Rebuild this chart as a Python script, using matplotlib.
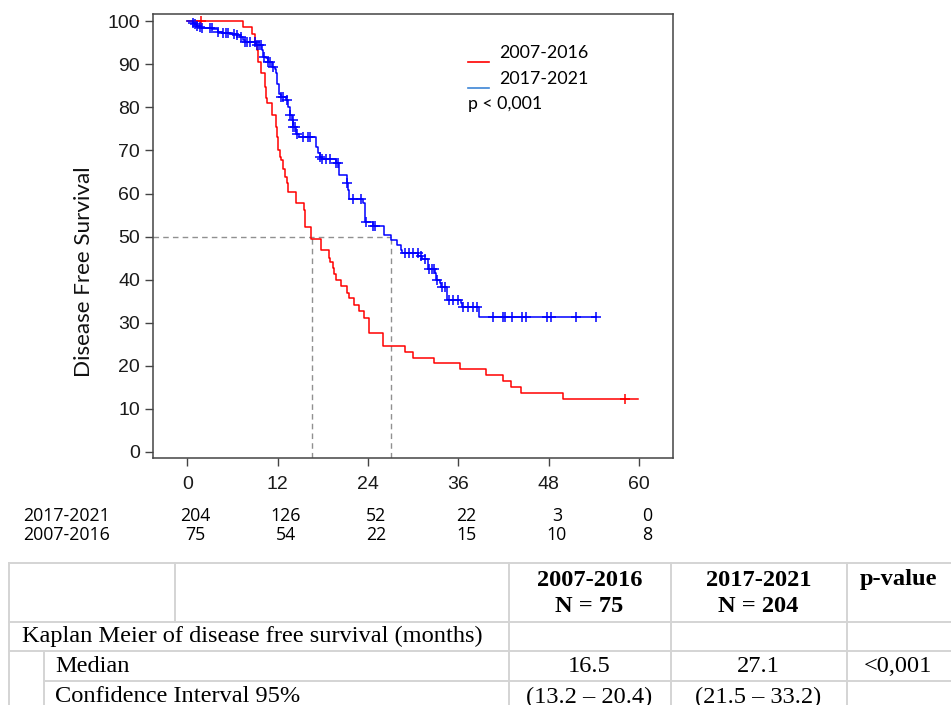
import numpy as np
import matplotlib
matplotlib.use("Agg")
import matplotlib.pyplot as plt
from matplotlib.lines import Line2D
from matplotlib.transforms import blended_transform_factory, offset_copy

# --- data ---
# 2007-2016 (red): step times and survival after each step
old_t = [0, 7.33, 8.65, 8.96, 9.19, 9.41, 9.72, 10.29, 10.51, 10.6, 11.27, 11.75,
         11.93, 12.06, 12.28, 12.5, 12.64, 12.95, 13.17, 13.39, 14.41, 15.52, 15.6,
         16.4, 17.73, 18.75, 18.92, 19.28, 19.5, 19.72, 20.47, 21.14, 21.49, 22.11,
         22.82, 23.44, 24.15, 25.92, 28.97, 29.99, 32.74, 36.19, 39.6, 41.9, 43.05,
         44.25, 49.91, 59.9]
old_s = [100, 98.7, 97.1, 94.8, 93.3, 90.6, 87.9, 84.8, 82.1, 80.9, 78.2, 75.5,
         73.2, 70.1, 68.5, 67.8, 65.8, 63.9, 62.4, 60.4, 57.7, 56.2, 52.3,
         49.4, 46.9, 45.0, 44.0, 42.7, 41.3, 40.0, 38.5, 36.9, 35.7, 34.2,
         32.8, 31.0, 27.6, 24.7, 23.3, 21.9, 20.6, 19.2, 17.9, 16.5, 15.1,
         13.8, 12.4, 12.4]
old_cens = [1.8, 58.1]

# 2017-2021 (blue)
new_t = [0, 0.69, 1.0, 1.22, 1.66, 1.88, 3.34, 3.78, 4.09, 4.54, 5.2, 5.86, 6.53,
         6.97, 7.41, 7.64, 9.1, 9.85, 10.07, 10.51, 10.73, 11.18, 11.62, 11.75,
         11.93, 12.2, 12.5, 13.08, 13.39, 13.61, 13.84, 14.05, 14.41, 14.85, 17.15,
         17.37, 17.6, 17.82, 19.81, 20.16, 21.14, 21.36, 21.49, 23.35, 23.57, 24.68,
         26.1, 27.11, 27.91, 28.44, 28.57, 30.65, 31.1, 31.9, 32.87, 33.09, 33.53,
         33.75, 34.42, 34.55, 36.28, 36.5, 38.76, 54.34]
new_s = [100, 99.5, 99.3, 98.8, 98.7, 98.5, 98.3, 98.1, 97.5, 97.3, 97.2, 97.1, 96.9,
         96.4, 95.6, 95.2, 94.4, 93.3, 91.7, 91.4, 90.6, 89.4, 89.0, 87.9,
         85.5, 83.2, 82.5, 81.8, 80.1, 78.2, 77.0, 75.5, 73.9, 73.2, 70.9,
         69.3, 68.5, 67.9, 67.0, 64.3, 62.4, 60.8, 58.7, 57.7, 53.5, 52.4,
         50.4, 49.2, 48.1, 46.9, 46.3, 45.4, 44.7, 42.4, 41.5, 40.0, 39.2,
         38.2, 36.9, 35.3, 34.5, 33.6, 31.3, 31.3]
new_cens = [0.77, 1.0, 1.31, 1.66, 2.01, 2.99, 3.21, 4.09, 4.67, 5.11, 5.42, 6.22,
            6.53, 7.19, 7.64, 7.86, 8.3, 8.96, 9.19, 9.54, 9.72, 10.16, 10.73, 11.04,
            11.4, 12.5, 12.73, 13.17, 13.7, 13.97, 14.05, 14.28, 14.5, 15.38, 16.04,
            16.27, 17.6, 17.82, 18.48, 18.92, 19.81, 20.03, 21.14, 22.02, 23.13,
            23.71, 24.68, 24.9, 28.88, 29.46, 29.99, 30.57, 30.97, 31.54, 32.07,
            32.43, 32.78, 33.22, 33.84, 34.2, 34.73, 35.3, 35.97, 36.63, 37.29,
            37.96, 38.49, 40.61, 41.94, 42.16, 43.09, 44.51, 44.95, 47.79, 48.36,
            51.59, 54.34]

medians = [16.5, 27.1]

risk_times = [0, 12, 24, 36, 48, 60]
risk_new = [204, 126, 52, 22, 3, 0]
risk_old = [75, 54, 22, 15, 10, 8]

table_groups = ["2007-2016\nN = 75", "2017-2021\nN = 204"]
table_median = ["16.5", "27.1"]
table_ci = ["(13.2 \u2013 20.4)", "(21.5 \u2013 33.2)"]
table_p = "<0,001"

W, H = 951, 705


def fx(px):
    return px / W


def fy(py):
    return 1 - py / H


def surv_at(t, s, ct):
    idx = np.searchsorted(t, ct, side="right") - 1
    return np.asarray(s)[idx]


fig = plt.figure(figsize=(W / 100, H / 100), dpi=100)
ax = fig.add_axes([fx(152.7), fy(458), fx(673) - fx(152.7), fy(14.3) - fy(458)])

red = "#ff0000"
blue = "#0000ff"

ax.step(old_t, old_s, where="post", color=red, lw=1.1, zorder=3)
ax.step(new_t, new_s, where="post", color=blue, lw=1.1, zorder=4)
ax.plot(old_cens, surv_at(old_t, old_s, old_cens), "+", color=red, ms=7, mew=1.1, zorder=3)
ax.plot(new_cens, surv_at(new_t, new_s, new_cens), "+", color=blue, ms=7, mew=1.1, zorder=4)

xmin, xmax = -4.6, 64.5
ymin, ymax = -1.4, 101.6
# median guide lines
ax.plot([xmin, max(medians)], [50, 50], ls=(0, (4, 3)), color="#909090", lw=1, zorder=2)
for m in medians:
    ax.plot([m, m], [ymin, 50], ls=(0, (4, 3)), color="#909090", lw=1, zorder=2)

ax.set_xlim(xmin, xmax)
ax.set_ylim(ymin, ymax)
ax.set_xticks(risk_times)
ax.set_yticks(np.arange(0, 101, 10))
for sp in ax.spines.values():
    sp.set_color("#444444")
    sp.set_linewidth(1.1)
ax.tick_params(axis="both", direction="out", length=6, width=1, color="#444444",
               labelcolor="#1a1a1a", labelsize=14, labelfontfamily="Liberation Sans")
ax.tick_params(axis="y", pad=3)
ax.tick_params(axis="x", pad=7)

fig.text(fx(83.5), fy(271.5), "Disease Free Survival", rotation=90, ha="center",
         va="center", family="Lato", fontsize=16.2, color="#111111")

# legend drawn by hand
fig.add_artist(Line2D([fx(468), fx(489)], [fy(62.3), fy(62.3)], color=red, lw=1.2))
fig.add_artist(Line2D([fx(468), fx(489)], [fy(87.7), fy(87.7)], color="#3d85d6", lw=1.2))
fig.text(fx(499), fy(53), "2007-2016", family="Lato", fontsize=12.8, va="center")
fig.text(fx(499), fy(79), "2017-2021", family="Lato", fontsize=12.8, va="center")
fig.text(fx(468), fy(104), "p < 0,001", family="Lato", fontsize=12.8, va="center")

# numbers at risk
tr = blended_transform_factory(ax.transData, fig.transFigure)
tr = offset_copy(tr, fig=fig, x=8, y=0, units="dots")
fig.text(fx(23), fy(516), "2017-2021", family="Open Sans", fontsize=12.8, va="center")
fig.text(fx(23), fy(535), "2007-2016", family="Open Sans", fontsize=12.8, va="center")
for t, a, b in zip(risk_times, risk_new, risk_old):
    ax.text(t, fy(516), str(a), transform=tr, ha="center", va="center",
            family="Open Sans", fontsize=12.8)
    ax.text(t, fy(535), str(b), transform=tr, ha="center", va="center",
            family="Open Sans", fontsize=12.8)

# summary table
grid = "#d4d4d4"


def hline(y, x0, x1=W):
    fig.add_artist(Line2D([fx(x0), fx(x1)], [fy(y), fy(y)], color=grid, lw=1.4))


def vline(x, y0, y1=H):
    fig.add_artist(Line2D([fx(x), fx(x)], [fy(y0), fy(y1)], color=grid, lw=1.4))


hline(563, 9.3)
hline(621.5, 9.3)
hline(651, 9.3)
hline(681, 43.5)
vline(9.3, 563)
vline(175, 563, 621.5)
vline(43.5, 651)
for xv in [508.5, 670.5, 847]:
    vline(xv, 563)

serif = "Liberation Serif"
fs = 17.6
col_x = [589.5, 758.5]
p_x = 898
for xc, lab in zip(col_x, table_groups):
    top, bot = lab.split("\n")
    fig.text(fx(xc), fy(580), top, ha="center", va="center", family=serif,
             fontsize=fs, fontweight="bold")
    fig.text(fx(xc), fy(607), bot, ha="center", va="center", family=serif,
             fontsize=fs, fontweight="bold")
fig.text(fx(p_x), fy(580), "p-value", ha="center", va="center", family=serif,
         fontsize=fs, fontweight="bold")
fig.text(fx(21.5), fy(636.5), "Kaplan Meier of disease free survival (months)",
         va="center", family=serif, fontsize=fs)
fig.text(fx(55), fy(666.5), "Median", va="center", family=serif, fontsize=fs)
fig.text(fx(55), fy(697), "Confidence Interval 95%", va="center", family=serif,
         fontsize=fs)
for xc, med, ci in zip(col_x, table_median, table_ci):
    fig.text(fx(xc), fy(666.5), med, ha="center", va="center", family=serif, fontsize=fs)
    fig.text(fx(xc), fy(697), ci, ha="center", va="center", family=serif, fontsize=fs)
fig.text(fx(p_x), fy(666.5), table_p, ha="center", va="center", family=serif, fontsize=fs)

fig.savefig("out.png", dpi=100)
